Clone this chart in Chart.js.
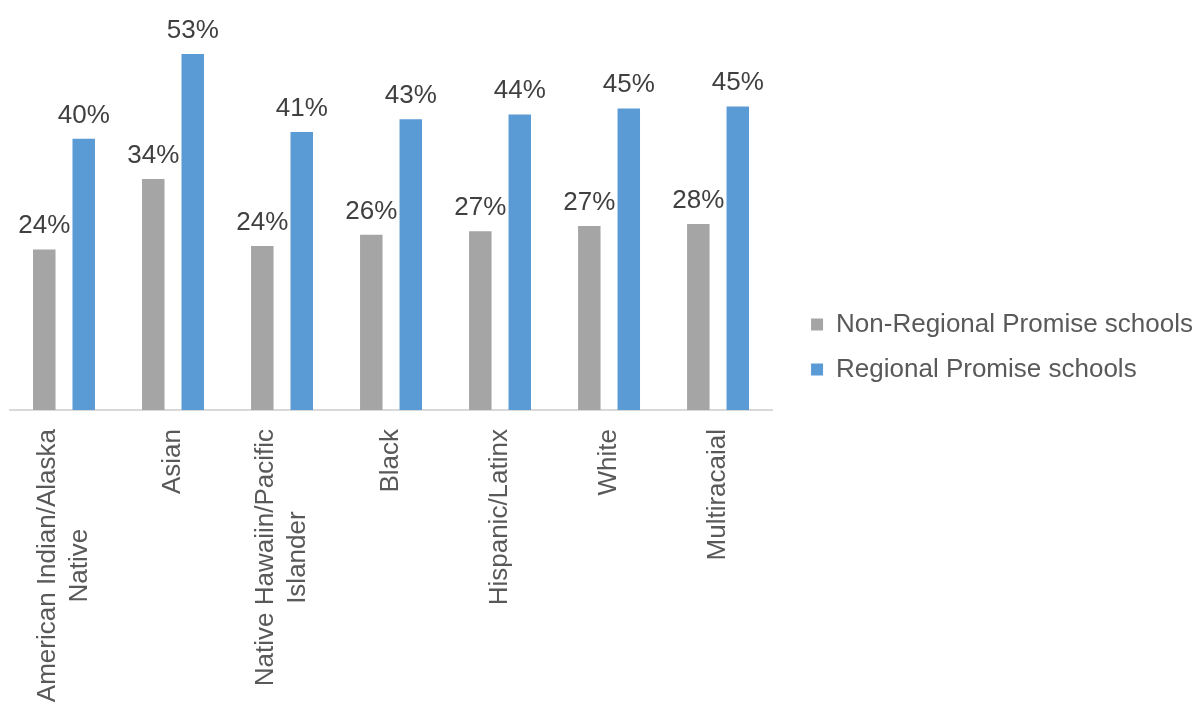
<!DOCTYPE html>
<html>
<head>
<meta charset="utf-8">
<style>
  html, body { margin: 0; padding: 0; background: #ffffff; }
  #wrap { width: 1203px; height: 705px; position: relative; }
</style>
<script src="https://cdn.jsdelivr.net/npm/chart.js@4/dist/chart.umd.min.js"></script>
</head>
<body>
<div id="wrap"><canvas id="c" width="1203" height="705"></canvas></div>
<script>
// ---- data ----
const categories = [
  ["American Indian/Alaska", "Native"],
  ["Asian"],
  ["Native Hawaiin/Pacific", "Islander"],
  ["Black"],
  ["Hispanic/Latinx"],
  ["White"],
  ["Multiracaial"]
];
const seriesNames = ["Non-Regional Promise schools", "Regional Promise schools"];
const nonRegional = [23.9, 34.4, 24.4, 26.1, 26.6, 27.4, 27.7];
const regional    = [40.4, 53.0, 41.4, 43.3, 44.0, 44.9, 45.2];
const nonRegionalLabels = ["24%", "34%", "24%", "26%", "27%", "27%", "28%"];
const regionalLabels    = ["40%", "53%", "41%", "43%", "44%", "45%", "45%"];
const yMin = 0, yMax = 60;

const FONT = "'Liberation Sans', Arial, sans-serif";

// spacer boxes to reproduce gaps around the plot area
const spacerPlugin = {
  id: 'spacers',
  beforeInit(chart) {
    const right = {
      position: 'right', weight: 0, fullSize: false, options: {},
      left: 0, top: 0, right: 0, bottom: 0, width: 0, height: 0,
      isHorizontal() { return false; },
      update(maxW, maxH) { this.width = 19.5; this.height = maxH; },
      draw() {}
    };
    const bottom = {
      position: 'bottom', weight: 10, fullSize: false, options: {},
      left: 0, top: 0, right: 0, bottom: 0, width: 0, height: 0,
      isHorizontal() { return true; },
      update(maxW, maxH) { this.width = maxW; this.height = 277; },
      draw() {}
    };
    Chart.layouts.addBox(chart, right);
    Chart.layouts.addBox(chart, bottom);
  }
};

// category labels, rotated, lines centred on each other
const tickLabelPlugin = {
  id: 'tickLabels',
  afterDraw(chart) {
    const ctx = chart.ctx;
    const xs = chart.scales.x;
    const base = chart.chartArea.bottom;
    ctx.save();
    ctx.font = "26px " + FONT;
    ctx.fillStyle = "#595959";
    ctx.textAlign = "center";
    ctx.textBaseline = "middle";
    const lh = 32;
    categories.forEach((lines, i) => {
      const x = xs.getPixelForValue(i);
      const w = Math.max(...lines.map(l => ctx.measureText(l).width));
      const cy = base + 19 + w / 2;
      lines.forEach((line, j) => {
        const off = (j - (lines.length - 1) / 2) * lh;
        ctx.save();
        ctx.translate(x + off, cy);
        ctx.rotate(-Math.PI / 2);
        ctx.fillText(line, 0, 0);
        ctx.restore();
      });
    });
    ctx.restore();
  }
};

// value labels above bars
const valueLabelPlugin = {
  id: 'valueLabels',
  afterDatasetsDraw(chart) {
    const ctx = chart.ctx;
    const texts = [nonRegionalLabels, regionalLabels];
    ctx.save();
    ctx.font = "26px " + FONT;
    ctx.fillStyle = "#404040";
    ctx.textAlign = "center";
    ctx.textBaseline = "alphabetic";
    chart.data.datasets.forEach((ds, di) => {
      const meta = chart.getDatasetMeta(di);
      meta.data.forEach((el, i) => {
        ctx.fillText(texts[di][i], el.x, el.y - 16);
      });
    });
    ctx.restore();
  }
};

new Chart(document.getElementById('c'), {
  type: 'bar',
  data: {
    labels: categories,
    datasets: [
      { label: seriesNames[0], data: nonRegional, backgroundColor: '#a5a5a5', borderWidth: 0,
        categoryPercentage: 0.724, barPercentage: 0.57 },
      { label: seriesNames[1], data: regional, backgroundColor: '#5b9bd5', borderWidth: 0,
        categoryPercentage: 0.724, barPercentage: 0.57 }
    ]
  },
  options: {
    responsive: false,
    animation: false,
    devicePixelRatio: 1,
    layout: { padding: { left: 9.5, top: 7, right: 0, bottom: 18 } },
    scales: {
      x: {
        grid: { display: false, drawTicks: false },
        border: { display: true, color: '#d9d9d9', width: 2 },
        ticks: { display: false }
      },
      y: {
        display: false,
        min: yMin, max: yMax
      }
    },
    plugins: {
      legend: {
        position: 'right',
        align: 'center',
        maxWidth: 600,
        labels: {
          boxWidth: 12, boxHeight: 12, padding: 19,
          color: '#595959',
          font: { size: 26, family: FONT }
        }
      },
      tooltip: { enabled: false }
    }
  },
  plugins: [spacerPlugin, tickLabelPlugin, valueLabelPlugin]
});
</script>
</body>
</html>
